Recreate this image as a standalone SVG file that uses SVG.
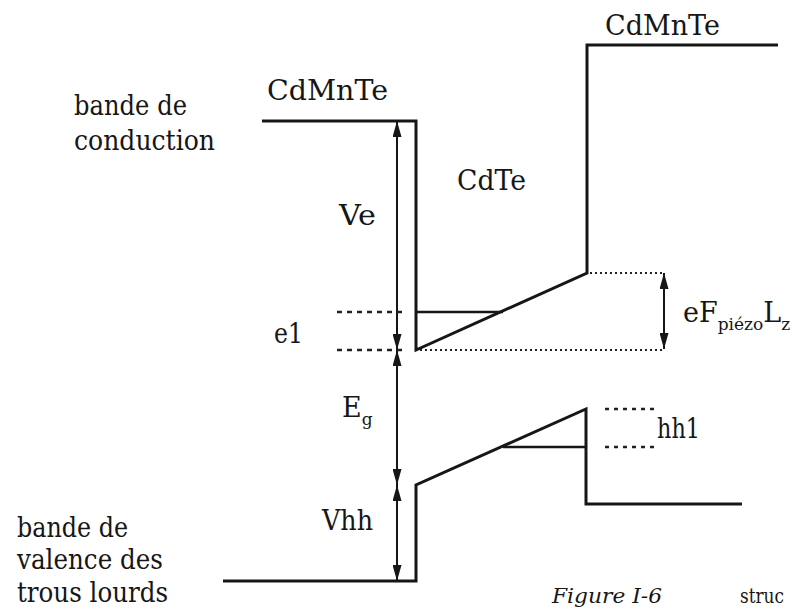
<svg xmlns="http://www.w3.org/2000/svg" width="794" height="614" viewBox="0 0 794 614">
<defs>
<style>
.band{fill:none;stroke:#161616;stroke-width:3;stroke-linejoin:miter}
.lvl{fill:none;stroke:#161616;stroke-width:2.5}
.arr{fill:none;stroke:#161616;stroke-width:2;marker-start:url(#ah);marker-end:url(#ah)}
.dash{fill:none;stroke:#222;stroke-width:2.5;stroke-dasharray:5 5}
.dot{fill:none;stroke:#222;stroke-width:2;stroke-dasharray:2 3}
.hdot{fill:none;stroke:#222;stroke-width:2.5;stroke-dasharray:4 5}
</style>
<marker id="ah" viewBox="0 0 16 9" refX="16" refY="4.5" markerWidth="16" markerHeight="9" markerUnits="userSpaceOnUse" orient="auto-start-reverse">
<path d="M0,0 L16,4.5 L0,9 Z" fill="#161616"/>
</marker>
</defs>
<rect width="794" height="614" fill="#ffffff"/>
<g id="connectors">
<path class="band" d="M262,121 H416 V350 L587,273 V45 H778"/>
<path class="lvl" d="M416,312 H503"/>
<path class="band" d="M223,581 H416 V485 L586,409 V504 H742"/>
<path class="lvl" d="M503,447 H586"/>
<line class="arr" x1="397" y1="121" x2="397" y2="350"/>
<line class="arr" x1="397" y1="350" x2="397" y2="485"/>
<line class="arr" x1="397" y1="485" x2="397" y2="581"/>
<line class="arr" x1="664" y1="273" x2="664" y2="349"/>
<line class="dash" x1="337" y1="312" x2="407" y2="312"/>
<line class="dash" x1="337" y1="350" x2="407" y2="350"/>
<line class="dot" x1="420" y1="350" x2="663" y2="350"/>
<line class="dot" x1="590" y1="273" x2="663" y2="273"/>
<line class="hdot" x1="605" y1="409" x2="655" y2="409"/>
<line class="hdot" x1="605" y1="447" x2="655" y2="447"/>
</g>
<g id="labels" font-family="DejaVu Serif, Liberation Serif, serif" font-size="27" fill="#161616">
<text x="74" y="115" textLength="113" lengthAdjust="spacingAndGlyphs">bande de</text>
<text x="74" y="150" textLength="141" lengthAdjust="spacingAndGlyphs">conduction</text>
<text x="267" y="100" textLength="121" lengthAdjust="spacingAndGlyphs">CdMnTe</text>
<text x="605" y="35" textLength="115" lengthAdjust="spacingAndGlyphs">CdMnTe</text>
<text x="457" y="190" textLength="69" lengthAdjust="spacingAndGlyphs">CdTe</text>
<text x="339" y="225" textLength="37" lengthAdjust="spacingAndGlyphs">Ve</text>
<text x="274" y="343" textLength="29" lengthAdjust="spacingAndGlyphs">e1</text>
<text x="342" y="417">E<tspan font-size="17" dy="8">g</tspan></text>
<text x="657" y="438" textLength="43" lengthAdjust="spacingAndGlyphs">hh1</text>
<text x="322" y="530" textLength="51" lengthAdjust="spacingAndGlyphs">Vhh</text>
<text x="683" y="322">eF<tspan font-size="17" dy="8">piézo</tspan><tspan dy="-8">L</tspan><tspan font-size="17" dy="8">z</tspan></text>
<text x="17" y="537" textLength="111" lengthAdjust="spacingAndGlyphs">bande de</text>
<text x="17" y="569" textLength="146" lengthAdjust="spacingAndGlyphs">valence des</text>
<text x="17" y="602" textLength="151" lengthAdjust="spacingAndGlyphs">trous lourds</text>
<text x="552" y="603" font-style="italic" font-size="21" textLength="110" lengthAdjust="spacingAndGlyphs">Figure I-6</text>
<text x="740" y="603" font-size="21" textLength="44" lengthAdjust="spacingAndGlyphs">struc</text>
</g>
</svg>
